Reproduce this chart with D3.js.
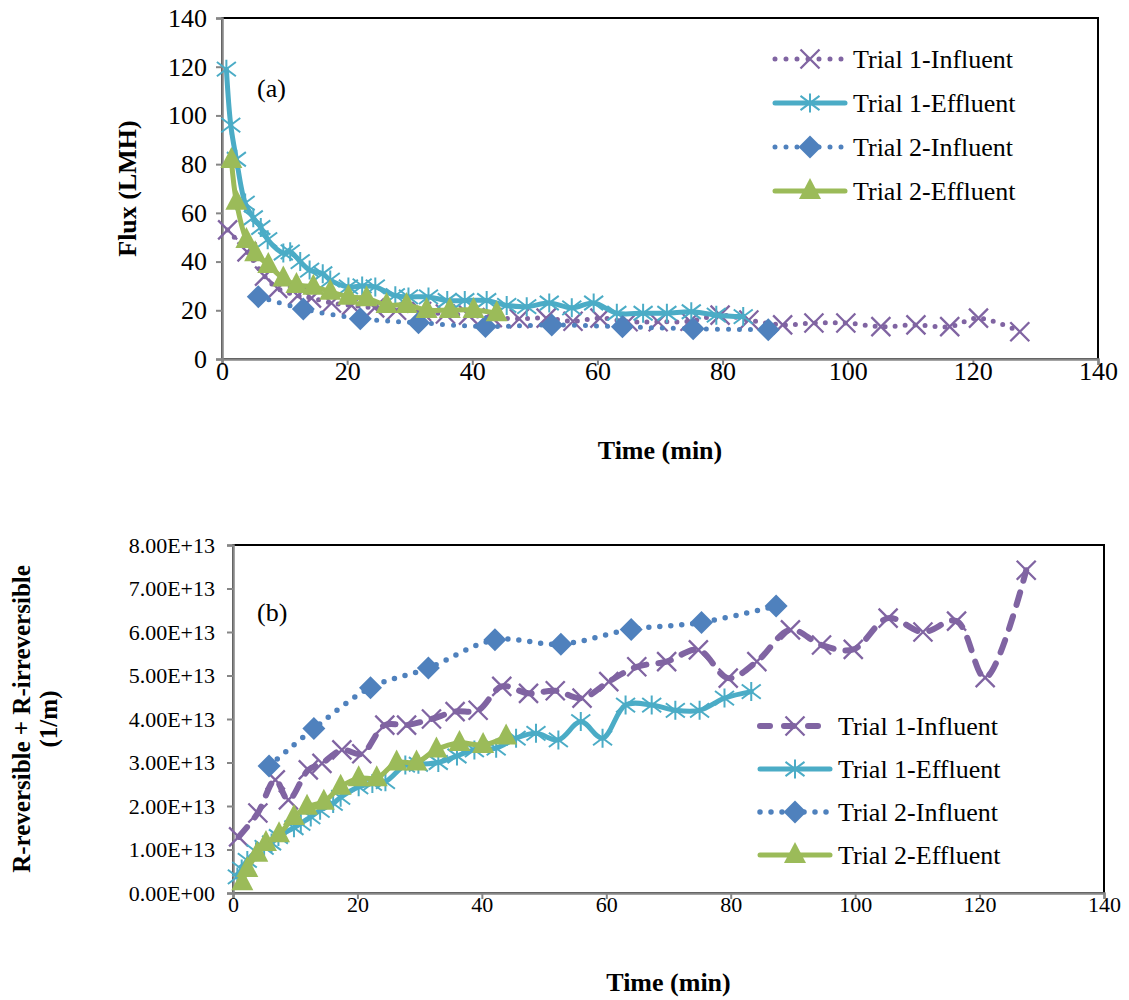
<!DOCTYPE html>
<html><head><meta charset="utf-8">
<script src="https://cdn.jsdelivr.net/npm/d3@7"></script>
<style>body{margin:0;background:#fff}svg{display:block}text{font-family:'Liberation Serif','Times New Roman',serif}</style>
</head><body>
<svg id="c" width="1129" height="1000"></svg>
<script>
// ---- data ----
const seriesNames = ["Trial 1-Influent","Trial 1-Effluent","Trial 2-Influent","Trial 2-Effluent"];
const xTicks = [0,20,40,60,80,100,120,140];
const fluxTicks = [0,20,40,60,80,100,120,140];
const resTicks = [0,1,2,3,4,5,6,7,8];           // x 1E+13
const resTickLabels = ["0.00E+00","1.00E+13","2.00E+13","3.00E+13","4.00E+13","5.00E+13","6.00E+13","7.00E+13","8.00E+13"];

const t1InfTime = [0.9,4,6.8,8.9,12.1,14.3,17.5,20.7,24.4,27.9,31.9,35.7,39.4,43.2,47.5,51.8,56.1,60.4,64.9,69.7,74.8,79.6,84.2,89.6,94.6,99.7,105.3,110.9,116.3,120.9,127.5];
const t1InfFlux = [53,44,34,29,26,25,23,22,21,20,19.5,18.5,18,17,16.5,16.8,15.5,16.8,15.3,15.3,15.5,18,16,14,14.8,14.8,13.3,14,13.3,16.8,11.2];
const t1InfRes  = [1.29,1.84,2.6,2.14,2.83,2.98,3.29,3.2,3.86,3.86,4.0,4.17,4.2,4.75,4.59,4.65,4.48,4.86,5.2,5.32,5.59,4.94,5.32,6.05,5.7,5.6,6.32,6.0,6.25,4.95,7.42];

const t1EffTime = [0.7,1.4,2.3,3.7,5,6.2,7.3,9.8,10.9,12.5,14,16.1,17.3,20.2,22.4,24.5,27.7,29.8,33,36,38.8,42.3,45.5,48.7,52.3,55.9,59.4,63.1,67.3,71.1,75,79,83.3];
const t1EffFlux = [119,96,82,64,58,54,49,43.5,44,40,36.5,35,32.4,29.6,30,29.6,26,25.5,25.5,24,24,24,22,21.5,23,21,23,18.8,18.8,18.8,19.4,18,17.4];
const t1EffRes  = [0.37,0.55,0.75,0.95,1.05,1.15,1.3,1.5,1.6,1.75,1.9,2.06,2.2,2.44,2.52,2.56,2.94,2.96,3.0,3.15,3.29,3.33,3.56,3.67,3.52,3.94,3.56,4.32,4.32,4.2,4.2,4.48,4.63];

const t2InfTime = [5.8,13,22.1,31.4,42.1,52.7,64,75.3,87.3];
const t2InfFlux = [25.6,20.5,16.5,14.9,13.3,14,13.2,12.4,12];
const t2InfRes  = [2.92,3.78,4.72,5.17,5.82,5.72,6.06,6.22,6.6];

const t2EffTime = [1.5,2.3,3.9,5.3,7.4,9.8,11.9,14.6,17.3,20.2,23.1,26.3,29.5,32.7,36.4,40.2,43.9];
const t2EffFlux = [81.7,64.6,48.9,43.4,38.6,33.1,30.4,29.7,27.6,25.6,24.9,22.2,22.2,20.1,20.1,20.1,18.8];
const t2EffRes  = [0.25,0.55,0.9,1.15,1.35,1.75,1.98,2.1,2.44,2.64,2.64,3.0,3.0,3.3,3.45,3.4,3.6];

// ---- styles ----
const colors = ["#8064A2","#4BACC6","#4F81BD","#9BBB59"];
const markers = ["x","star","diamond","triangle"];
const FONT = "'Liberation Serif','Times New Roman',serif";
const svg = d3.select("#c");

function drawMarker(g, type, x, y, color){
  const s = 9.5;
  if(type==="x"){
    g.append("path").attr("d",`M${x-s},${y-s}L${x+s},${y+s}M${x-s},${y+s}L${x+s},${y-s}`)
      .attr("stroke",color).attr("stroke-width",2.3).attr("fill","none");
  } else if(type==="star"){
    g.append("path").attr("d",`M${x-s},${y-s*0.75}L${x+s},${y+s*0.75}M${x-s},${y+s*0.75}L${x+s},${y-s*0.75}M${x},${y-s}L${x},${y+s}`)
      .attr("stroke",color).attr("stroke-width",2).attr("fill","none");
  } else if(type==="diamond"){
    const d=11.5;
    g.append("path").attr("d",`M${x},${y-d}L${x+d},${y}L${x},${y+d}L${x-d},${y}Z`).attr("fill",color);
  } else {
    const w=11;
    g.append("path").attr("d",`M${x},${y-13}L${x+w},${y+8}L${x-w},${y+8}Z`).attr("fill",color);
  }
}

function chart(opts){
  const {L,R,T,B,yDomain,yTicks,yFmt,tickFont,yPad,series,dashes,label,labelPos,legend,yTitle,xTitleY} = opts;
  const x = d3.scaleLinear().domain([0,140]).range([L,R]);
  const y = d3.scaleLinear().domain(yDomain).range([B,T]);
  const g = svg.append("g");
  g.append("rect").attr("x",L).attr("y",T).attr("width",R-L).attr("height",B-T)
    .attr("fill","none").attr("stroke","#000").attr("stroke-width",2);
  // axes
  const xa = g.append("g").attr("transform",`translate(0,${B})`)
    .call(d3.axisBottom(x).tickValues(xTicks).tickSize(6).tickPadding(-3).tickFormat(d3.format("d")));
  const ya = g.append("g").attr("transform",`translate(${L},0)`)
    .call(d3.axisLeft(y).tickValues(yTicks).tickSize(6).tickPadding(yPad).tickFormat(yFmt));
  [xa,ya].forEach(a=>{
    a.attr("font-family",null).attr("font-size",null);
    a.select(".domain").attr("stroke","#868686").attr("stroke-width",2.5);
    a.selectAll(".tick line").attr("stroke","#868686").attr("stroke-width",2);
    a.selectAll("text").style("font-family",FONT).style("font-size",tickFont+"px").attr("fill","#000");
  });
  // series
  const curve = d3.curveCatmullRom.alpha(0.5);
  series.forEach((s,i)=>{
    const pts = s.t.map((t,j)=>[x(t),y(s.v[j])]);
    const line = d3.line().curve(curve);
    g.append("path").attr("d",line(pts)).attr("fill","none")
      .attr("stroke",colors[i]).attr("stroke-width",dashes[i].w)
      .attr("stroke-dasharray",dashes[i].d).attr("stroke-linecap","round").attr("stroke-linejoin","round");
    const mg = g.append("g");
    pts.forEach(p=>drawMarker(mg,markers[i],p[0],p[1],colors[i]));
  });
  // panel label
  g.append("text").attr("x",labelPos[0]).attr("y",labelPos[1]).text(label)
    .style("font-family",FONT).style("font-size","26px");
  // legend
  seriesNames.forEach((n,i)=>{
    const ly = legend.y + i*legend.dy;
    g.append("line").attr("x1",legend.x).attr("x2",legend.x+70).attr("y1",ly).attr("y2",ly)
      .attr("stroke",colors[i]).attr("stroke-width",dashes[i].w).attr("stroke-dasharray",dashes[i].ld||dashes[i].d)
      .attr("stroke-linecap","round");
    drawMarker(g,markers[i],legend.x+35,ly,colors[i]);
    g.append("text").attr("x",legend.x+78).attr("y",ly+9).text(n)
      .style("font-family",FONT).style("font-size","26px");
  });
  // axis titles
  g.append("text").attr("x",(L+R)/2).attr("y",xTitleY).attr("text-anchor","middle")
    .style("font-family",FONT).style("font-size","26px").style("font-weight","bold").text("Time (min)");
  yTitle(g,(T+B)/2);
}

chart({
  L:222,R:1098,T:18,B:359,yDomain:[0,140],yTicks:fluxTicks,yFmt:d3.format("d"),tickFont:26,yPad:9,
  series:[{t:t1InfTime,v:t1InfFlux},{t:t1EffTime,v:t1EffFlux},{t:t2InfTime,v:t2InfFlux},{t:t2EffTime,v:t2EffFlux}],
  dashes:[{w:5,d:"0,10",ld:"0,11"},{w:5,d:null},{w:5,d:"0,11"},{w:5,d:null}],
  label:"(a)",labelPos:[257,97],
  legend:{x:775,y:59,dy:44},
  xTitleY:459,
  yTitle:(g,cy)=>{
    g.append("text").attr("transform",`translate(136,${cy}) rotate(-90)`).attr("text-anchor","middle")
      .style("font-family",FONT).style("font-size","26px").style("font-weight","bold").text("Flux (LMH)");
  }
});

chart({
  L:233,R:1104,T:545,B:893,yDomain:[0,8],yTicks:resTicks,yFmt:(d,i)=>resTickLabels[i],tickFont:22,yPad:12,
  series:[{t:t1InfTime,v:t1InfRes},{t:t1EffTime,v:t1EffRes},{t:t2InfTime,v:t2InfRes},{t:t2EffTime,v:t2EffRes}],
  dashes:[{w:6,d:"13,12",ld:"10,14"},{w:5,d:null},{w:5.5,d:"0,11"},{w:5,d:null}],
  label:"(b)",labelPos:[257,621],
  legend:{x:760,y:726,dy:43},
  xTitleY:991,
  yTitle:(g,cy)=>{
    g.append("text").attr("transform",`translate(30,${cy}) rotate(-90)`).attr("text-anchor","middle")
      .style("font-family",FONT).style("font-size","25px").style("font-weight","bold").text("R-reversible + R-irreversible");
    g.append("text").attr("transform",`translate(57,${cy}) rotate(-90)`).attr("text-anchor","middle")
      .style("font-family",FONT).style("font-size","25px").style("font-weight","bold").text("(1/m)");
  }
});
</script>
</body></html>
